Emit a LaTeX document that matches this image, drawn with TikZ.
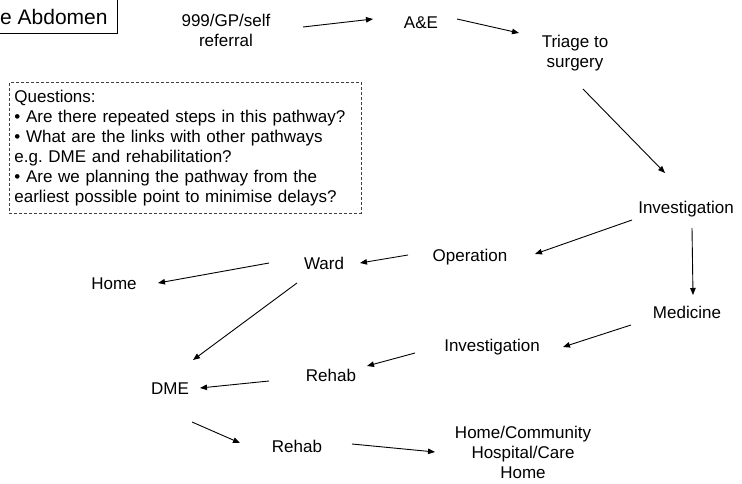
\documentclass[tikz,border=0pt]{standalone}
\usepackage{fontspec}
\setmainfont{Liberation Sans}
\usetikzlibrary{arrows.meta}
\begin{document}
\frenchspacing
\begin{tikzpicture}[x=1pt,y=-1pt,
  lbl/.style={inner sep=0pt,align=center,font=\fontsize{17}{20}\selectfont},
  flow/.style={line width=0.9pt,-{Triangle[length=7pt,width=5.5pt]}},
  qbox/.style={draw=black!75,line width=0.8pt,dash pattern=on 3pt off 2pt,
    inner xsep=5pt,inner ysep=7.5pt,text width=342pt,align=left,
    font=\fontsize{17}{20}\selectfont}]
\useasboundingbox (0,0) rectangle (742,484);
% title box, running off the left edge
\node[draw,line width=0.8pt,anchor=south east,inner xsep=10pt,inner ysep=5pt,
  text height=26pt,text depth=4pt,font=\fontsize{21}{24}\selectfont]
  (title) at (118,34) {e Abdomen};
% questions
\node[qbox,anchor=north west] (q) at (9,82)
  {Questions:\\
   • Are there repeated steps in this pathway?\\
   • What are the links with other pathways\\
   e.g. DME and rehabilitation?\\
   • Are we planning the pathway from the\\
   earliest possible point to minimise delays?};
% pathway steps
\node[lbl] (ref)  at (226,30)  {999/GP/self\\referral};
\node[lbl] (ae)   at (421,23)  {A\&E};
\node[lbl] (tri)  at (575,53)  {Triage to\\surgery};
\node[lbl] (inv1) at (686,209) {Investigation};
\node[lbl] (op)   at (470,257) {Operation};
\node[lbl] (ward) at (324,263) {Ward};
\node[lbl] (home) at (114,284) {Home};
\node[lbl] (med)  at (687,312) {Medicine};
\node[lbl] (inv2) at (492,347) {Investigation};
\node[lbl] (reh1) at (331,375) {Rehab};
\node[lbl] (dme)  at (170,389) {DME};
\node[lbl] (reh2) at (297,446) {Rehab};
\node[lbl] (hcc)  at (523,452) {Home/Community\\Hospital/Care\\Home};
% connectors
\draw[flow] ([shift={(77,-3)}]ref.center)  -- ([shift={(-48,-4)}]ae.center);
\draw[flow] ([shift={(36,-4)}]ae.center)   -- ([shift={(-56,-20)}]tri.center);
\draw[flow] ([shift={(8,36)}]tri.center)   -- ([shift={(-21,-36)}]inv1.center);
\draw[flow] ([shift={(-54,11)}]inv1.center) -- ([shift={(65,-3)}]op.center);
\draw[flow] ([shift={(6,19)}]inv1.center)  -- ([shift={(6,-17)}]med.center);
\draw[flow] ([shift={(-62,-2)}]op.center)  -- ([shift={(36,0)}]ward.center);
\draw[flow] ([shift={(-55,0)}]ward.center) -- ([shift={(44,-1)}]home.center);
\draw[flow] ([shift={(-27,20)}]ward.center) -- ([shift={(23,-29)}]dme.center);
\draw[flow] ([shift={(-56,13)}]med.center) -- ([shift={(71,0)}]inv2.center);
\draw[flow] ([shift={(-77,6)}]inv2.center) -- ([shift={(36,-9)}]reh1.center);
\draw[flow] ([shift={(-62,6)}]reh1.center) -- ([shift={(30,-1)}]dme.center);
\draw[flow] ([shift={(22,33)}]dme.center)  -- ([shift={(-57,-3)}]reh2.center);
\draw[flow] ([shift={(55,-2)}]reh2.center) -- ([shift={(-88,0)}]hcc.center);
\end{tikzpicture}
\end{document}
